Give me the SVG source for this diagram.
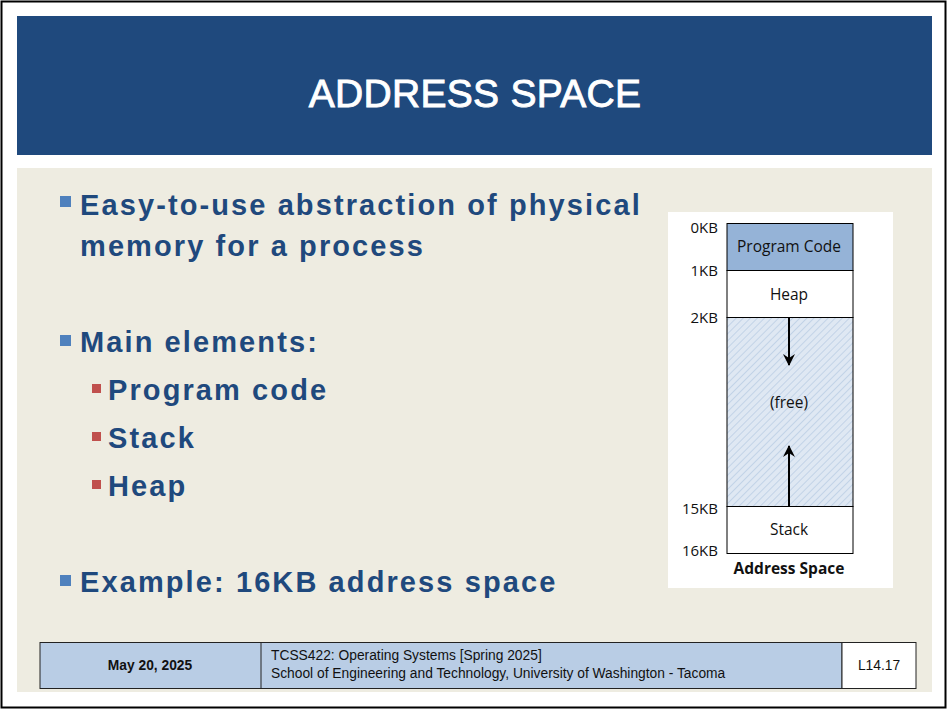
<svg xmlns="http://www.w3.org/2000/svg" width="948" height="710" viewBox="0 0 948 710">
<defs>
<style>
.b{font-family:"Liberation Sans",Arial,sans-serif;font-weight:bold;font-size:29px;fill:#1F497D;letter-spacing:2.1px}
.d{font-family:"Open Sans","Noto Sans",sans-serif;font-size:15.5px;fill:#111}
.k{font-family:"Open Sans","Noto Sans",sans-serif;font-size:15px;fill:#111;text-anchor:end}
.f{font-family:"Liberation Sans",Arial,sans-serif;font-size:13.8px;fill:#111}
</style>
<pattern id="hatch" width="5" height="5" patternUnits="userSpaceOnUse" patternTransform="rotate(45)">
<rect width="5" height="5" fill="#dfe8f3"/>
<line x1="0" y1="0" x2="0" y2="5" stroke="#b9cce3" stroke-width="1.5"/>
</pattern>
<marker id="ah" viewBox="0 0 12 12" refX="11" refY="6" markerWidth="12" markerHeight="12" markerUnits="userSpaceOnUse" orient="auto">
<path d="M0,0 L12,6 L0,12 L4,6 Z" fill="#000"/>
</marker>
</defs>
<rect x="0" y="0" width="948" height="710" fill="#fff"/>
<rect x="1.5" y="1.5" width="944" height="706" fill="none" stroke="#000" stroke-width="2"/>
<g id="title">
<rect x="17" y="16" width="915" height="139" fill="#1F497D"/>
<text x="475" y="107" text-anchor="middle" font-family="Liberation Sans,Arial,sans-serif" font-size="39" fill="#fff" stroke="#fff" stroke-width="0.9" letter-spacing="0.3">ADDRESS SPACE</text>
</g>
<rect x="17" y="168" width="915" height="524" fill="#EEECE1"/>
<g id="bullets">
<rect x="60" y="196" width="11" height="11" fill="#4F81BD"/>
<text class="b" x="80" y="215">Easy-to-use abstraction of physical</text>
<text class="b" x="80" y="256">memory for a process</text>
<rect x="60" y="335" width="11" height="11" fill="#4F81BD"/>
<text class="b" x="80" y="352">Main elements:</text>
<rect x="92" y="384" width="9" height="9" fill="#C0504D"/>
<text class="b" x="108" y="400">Program code</text>
<rect x="92" y="432" width="9" height="9" fill="#C0504D"/>
<text class="b" x="108" y="448">Stack</text>
<rect x="92" y="480" width="9" height="9" fill="#C0504D"/>
<text class="b" x="108" y="496">Heap</text>
<rect x="60" y="575" width="11" height="11" fill="#4F81BD"/>
<text class="b" x="80" y="592">Example: 16KB address space</text>
</g>
<g id="diagram">
<rect x="668" y="212" width="225" height="376" fill="#fff"/>
<rect id="code" x="727" y="223.5" width="126" height="47" fill="#95B3D7" stroke="#000" stroke-width="1"/>
<rect id="heap" x="727" y="270.5" width="126" height="47" fill="#fff" stroke="#000" stroke-width="1"/>
<rect id="free" x="727" y="317.5" width="126" height="189" fill="url(#hatch)" stroke="#000" stroke-width="1"/>
<rect id="stack" x="727" y="506.5" width="126" height="47" fill="#fff" stroke="#000" stroke-width="1"/>
<text class="d" x="789" y="252" text-anchor="middle">Program Code</text>
<text class="d" x="789" y="300" text-anchor="middle">Heap</text>
<text class="d" x="789" y="408" text-anchor="middle">(free)</text>
<text class="d" x="789" y="535" text-anchor="middle">Stack</text>
<text class="k" x="718" y="233">0KB</text>
<text class="k" x="718" y="276">1KB</text>
<text class="k" x="718" y="323">2KB</text>
<text class="k" x="718" y="514">15KB</text>
<text class="k" x="718" y="556">16KB</text>
<text class="d" x="789" y="574" text-anchor="middle" font-weight="bold" font-size="16.5">Address Space</text>
</g>
<g id="connectors">
<line x1="789" y1="318" x2="789" y2="365" stroke="#000" stroke-width="2" marker-end="url(#ah)"/>
<line x1="789" y1="506" x2="789" y2="446" stroke="#000" stroke-width="2" marker-end="url(#ah)"/>
</g>
<g id="footer">
<rect x="40" y="642.5" width="802" height="46" fill="#B9CDE5" stroke="#222" stroke-width="1"/>
<line x1="261" y1="642.5" x2="261" y2="688.5" stroke="#222" stroke-width="1"/>
<rect x="842" y="642.5" width="74" height="46" fill="#fff" stroke="#222" stroke-width="1"/>
<text class="f" x="150" y="670" text-anchor="middle" font-weight="bold" font-size="15.5">May 20, 2025</text>
<text class="f" x="271" y="660">TCSS422: Operating Systems [Spring 2025]</text>
<text class="f" x="271" y="678">School of Engineering and Technology, University of Washington - Tacoma</text>
<text class="f" x="879" y="670" text-anchor="middle" font-size="12.5">L14.17</text>
</g>
</svg>
